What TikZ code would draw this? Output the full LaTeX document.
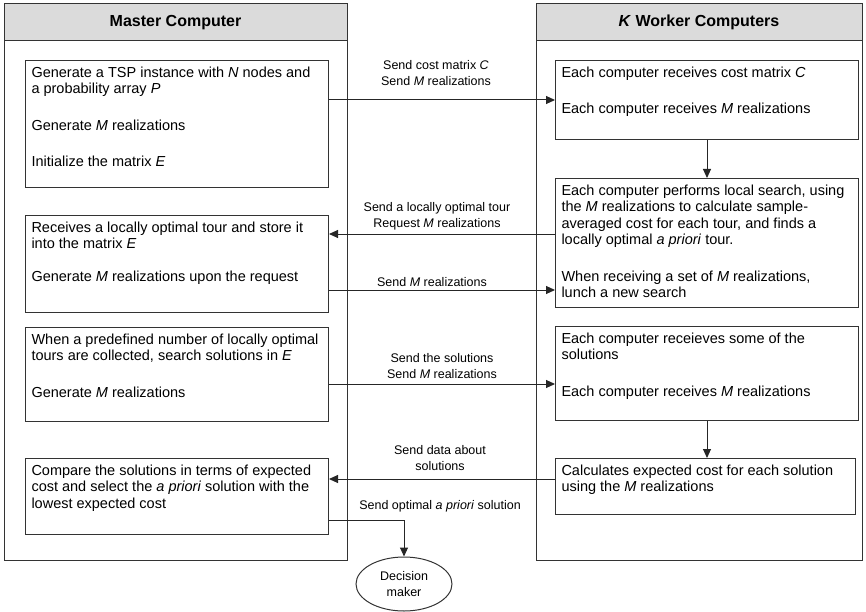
\documentclass[tikz,border=0pt]{standalone}
\usepackage{fontspec}
\setmainfont{Liberation Sans}
\usepackage{tikz}
\usetikzlibrary{arrows.meta}
\usetikzlibrary{shapes.geometric}

\begin{document}
\begin{tikzpicture}[x=1pt,y=-1pt,
  every node/.style={font=\fontsize{14.5}{16.5}\selectfont},
  header/.style={draw=black!80,line width=1pt,fill=black!14,minimum height=37pt,
    font=\fontsize{16}{18}\selectfont\bfseries},
  stepbox/.style={draw=black!80,line width=1pt,anchor=north west,inner sep=6pt},
  msg/.style={align=center,font=\fontsize{12.5}{16}\selectfont},
  flow/.style={draw=black!85,line width=1pt,-{Triangle[length=9pt,width=8pt]}}]
  \useasboundingbox (0,0) rectangle (866,612);

  % the two columns
  \draw[draw=black!80,line width=1pt] (4,4) rectangle (347,560);
  \draw[draw=black!80,line width=1pt] (536,4) rectangle (862,560);
  \node[header,minimum width=343pt] (mh) at (175.5,22.5) {Master Computer};
  \node[header,minimum width=326pt] (wh) at (699,22.5) {\textit{K} Worker Computers};

  % master side
  \node[stepbox] (m1) at (25,60) {\parbox[t][115pt][t]{291pt}{\raggedright
    Generate a TSP instance with \textit{N} nodes and\\a probability array \textit{P}\\[20pt]
    Generate \textit{M} realizations\\[20pt]
    Initialize the matrix \textit{E}}};
  \node[stepbox] (m2) at (25,215) {\parbox[t][85pt][t]{291pt}{\raggedright
    Receives a locally optimal tour and store it\\into the matrix \textit{E}\\[16pt]
    Generate \textit{M} realizations upon the request}};
  \node[stepbox] (m3) at (25,327) {\parbox[t][82pt][t]{291pt}{\raggedright
    When a predefined number of locally optimal\\tours are collected, search solutions in \textit{E}\\[20pt]
    Generate \textit{M} realizations}};
  \node[stepbox] (m4) at (25,458) {\parbox[t][64pt][t]{291pt}{\raggedright
    Compare the solutions in terms of expected\\cost and select the \textit{a priori} solution with the\\lowest expected cost}};

  % worker side
  \node[stepbox] (r1) at (555,60) {\parbox[t][67pt][t]{291pt}{\raggedright
    Each computer receives cost matrix \textit{C}\\[20pt]
    Each computer receives \textit{M} realizations}};
  \node[stepbox] (r2) at (555,178) {\parbox[t][117pt][t]{291pt}{\raggedright
    Each computer performs local search, using\\the \textit{M} realizations to calculate sample-\\averaged cost for each tour, and finds a\\locally optimal \textit{a priori} tour.\\[20pt]
    When receiving a set of \textit{M} realizations,\\lunch a new search}};
  \node[stepbox] (r3) at (555,326) {\parbox[t][82pt][t]{291pt}{\raggedright
    Each computer receieves some of the\\solutions\\[20pt]
    Each computer receives \textit{M} realizations}};
  \node[stepbox] (r4) at (555,458) {\parbox[t][44pt][t]{288pt}{\raggedright
    Calculates expected cost for each solution\\using the \textit{M} realizations}};

  \node[ellipse,draw=black!80,line width=1pt,minimum width=96pt,minimum height=54pt,
    align=center,font=\fontsize{12.5}{16}\selectfont] (dm) at (404,584) {Decision\\maker};

  % messages
  \node[msg] (l1) at (436,73) {Send cost matrix \textit{C}\\Send \textit{M} realizations};
  \node[msg] (l2) at (437,216.5) {Send a locally optimal tour\\Request \textit{M} realizations};
  \node[msg] (l3) at (432,282) {Send \textit{M} realizations};
  \node[msg] (l4) at (442,366) {Send the solutions\\Send \textit{M} realizations};
  \node[msg] (l5) at (440,458) {Send data about\\solutions};
  \node[msg] (l6) at (440,506) {Send optimal \textit{a priori} solution};

  \draw[flow] (m1.east |- 0,100) -- (r1.west |- 0,100);
  \draw[flow] (r1.south) -- (r2.north);
  \draw[flow] (r2.west |- 0,234) -- (m2.east |- 0,234);
  \draw[flow] (m2.east |- 0,290) -- (r2.west |- 0,290);
  \draw[flow] (m3.east |- 0,384) -- (r3.west |- 0,384);
  \draw[flow] (r3.south) -- (r3.south |- r4.north);
  \draw[flow] (r4.west |- 0,479) -- (m4.east |- 0,479);
  \draw[flow] (m4.east |- 0,520) -| (dm.north);
\end{tikzpicture}
\end{document}
